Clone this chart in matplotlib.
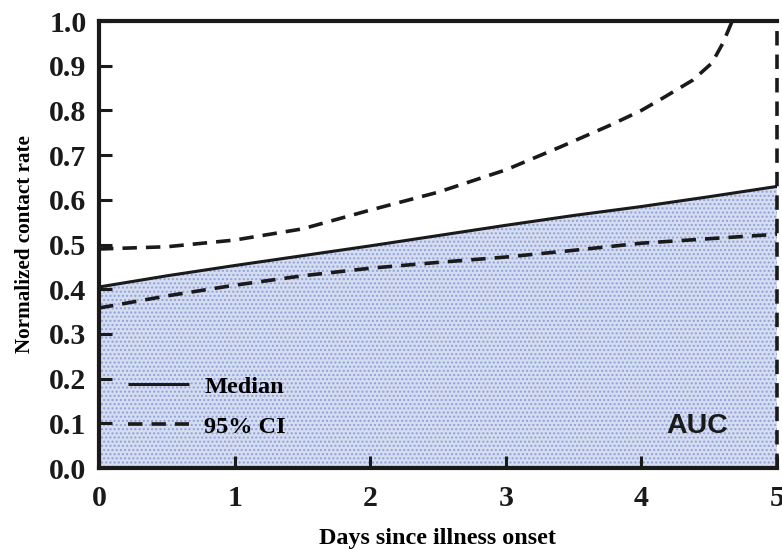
import matplotlib
matplotlib.use("Agg")
import matplotlib.pyplot as plt
import numpy as np

days = [0.0, 0.5, 1.0, 1.5, 2.0, 2.5, 3.0, 3.5, 4.0, 4.5, 5.0]
median = [0.405, 0.43, 0.453, 0.475, 0.497, 0.52, 0.543, 0.565, 0.585, 0.607, 0.63]

lower_x = [0.0, 0.5, 1.0, 1.5, 2.0, 2.5, 3.0, 3.5, 4.0, 4.5, 5.0]
lower = [0.358, 0.385, 0.409, 0.43, 0.447, 0.46, 0.472, 0.487, 0.503, 0.513, 0.523]

upper_x = [0.0, 0.5, 1.0, 1.5, 2.0, 2.5, 3.0, 3.4, 3.77, 4.0, 4.16, 4.38, 4.52, 4.6, 4.67, 5.0]
upper = [0.49, 0.495, 0.51, 0.535, 0.577, 0.617, 0.667, 0.718, 0.767, 0.80, 0.828, 0.868, 0.906, 0.95, 1.0, 1.0]

xticks = [0, 1, 2, 3, 4, 5]
yticks = [0.0, 0.1, 0.2, 0.3, 0.4, 0.5, 0.6, 0.7, 0.8, 0.9, 1.0]

serif = ['Liberation Serif', 'DejaVu Serif']

fig = plt.figure(figsize=(7.82, 5.49), dpi=100)
ax = fig.add_axes([0.1266, 0.1475, 0.867, 0.8142])

plt.rcParams['hatch.linewidth'] = 1.0
ax.fill_between(days, 0, median, facecolor='#d6ddf1', edgecolor='none', zorder=1)
ax.fill_between(days, 0, median, facecolor='none', edgecolor='#8ea2d8', hatch='....', linewidth=0, zorder=1)
ax.plot(days, median, color='#1a1a1a', lw=2.2, solid_capstyle='butt', zorder=3, label='Median')
ax.plot(lower_x, lower, color='#1a1a1a', lw=2.6, ls=(0, (4, 2.5)), zorder=3, label='95% CI')
ax.plot(upper_x, upper, color='#1a1a1a', lw=2.6, ls=(0, (4, 2.5)), zorder=3)
ax.plot([5, 5], [0, 1], color='#1a1a1a', lw=2.6, ls=(0, (4, 2.5)), zorder=3, clip_on=False)

ax.set_xlim(0, 5)
ax.set_ylim(0, 1)
ax.set_xticks(xticks)
ax.set_yticks(yticks)
ax.set_xticklabels([str(t) for t in xticks], fontfamily=serif, fontweight='bold', fontsize=21.5)
ax.set_yticklabels([f"{t:.1f}" for t in yticks], fontfamily=serif, fontweight='bold', fontsize=21.5)
ax.tick_params(direction='in', length=9, width=2.2, colors='#1a1a1a')
ax.tick_params(axis='y', pad=9)
ax.tick_params(axis='x', pad=12)
for s in ['left', 'bottom', 'top']:
    ax.spines[s].set_linewidth(3)
    ax.spines[s].set_color('#1a1a1a')
ax.spines['right'].set_visible(False)

ax.set_xlabel('Days since illness onset', fontfamily=serif, fontweight='bold', fontsize=17.4, labelpad=12)
ax.set_ylabel('Normalized contact rate', fontfamily=serif, fontweight='bold', fontsize=15.2, labelpad=10)

leg = ax.legend(loc='lower left', bbox_to_anchor=(0.011, 0.019), frameon=False,
                prop={'family': serif, 'weight': 'bold', 'size': 17.5},
                handlelength=2.5, handletextpad=0.62, labelspacing=0.74)

ax.text(0.928, 0.094, 'AUC', transform=ax.transAxes, ha='right', va='center',
        fontfamily=['Liberation Sans', 'DejaVu Sans'], fontweight='bold', fontsize=20.5, color='#1a1a1a')

fig.savefig('out.png', dpi=100)
